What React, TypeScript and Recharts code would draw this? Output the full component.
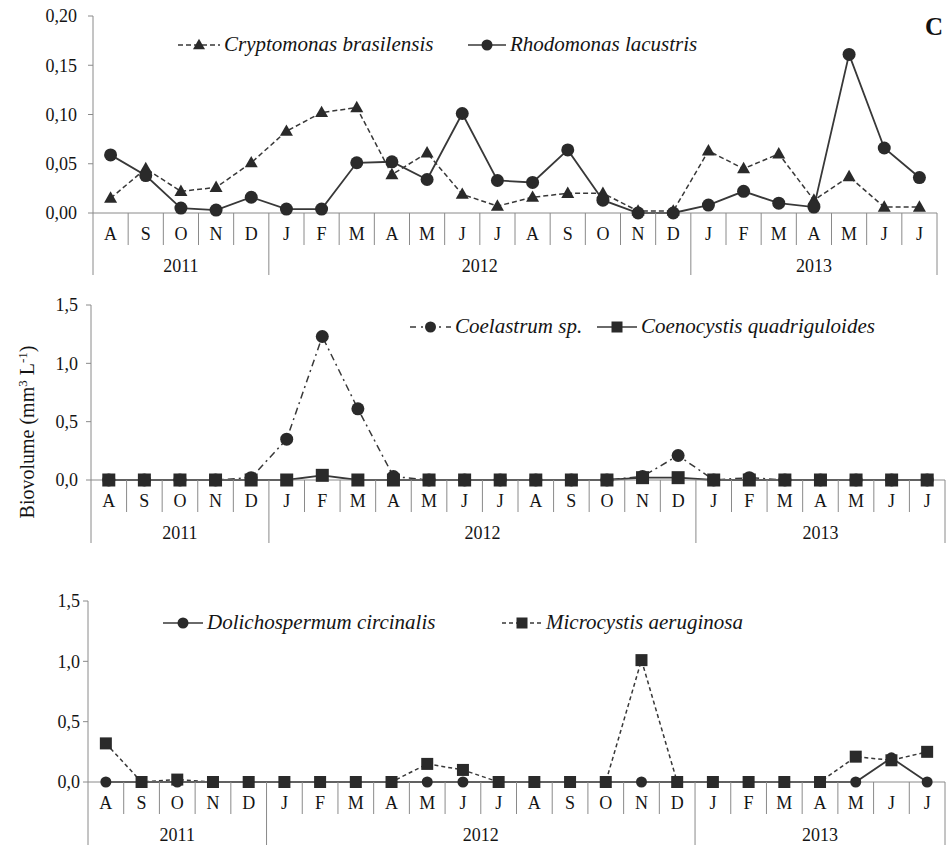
import React from "react";
import { LineChart, Line, XAxis, YAxis } from "recharts";

// sampling months, Aug 2011 - Jul 2013
const MONTHS = ["A", "S", "O", "N", "D", "J", "F", "M", "A", "M", "J", "J", "A", "S", "O", "N", "D", "J", "F", "M", "A", "M", "J", "J"];
const YEAR_LABELS = ["2011", "2012", "2013"];
const YEAR_SPANS = [5, 12, 7];

// biovolume (mm3 L-1)
const CRYPTOMONAS = [0.015, 0.045, 0.022, 0.026, 0.051, 0.083, 0.102, 0.107, 0.039, 0.061, 0.019, 0.007, 0.016, 0.020, 0.020, 0.002, 0.002, 0.063, 0.045, 0.060, 0.013, 0.037, 0.006, 0.006];
const RHODOMONAS = [0.059, 0.038, 0.005, 0.003, 0.016, 0.004, 0.004, 0.051, 0.052, 0.034, 0.101, 0.033, 0.031, 0.064, 0.013, 0.000, 0.000, 0.008, 0.022, 0.010, 0.006, 0.161, 0.066, 0.036];
const COELASTRUM = [0, 0, 0, 0, 0.02, 0.35, 1.23, 0.61, 0.03, 0, 0, 0, 0, 0, 0, 0.03, 0.21, 0, 0.02, 0, 0, 0, 0, 0];
const COENOCYSTIS = [0, 0, 0, 0, 0, 0, 0.04, 0, 0, 0, 0, 0, 0, 0, 0, 0.02, 0.02, 0, 0, 0, 0, 0, 0, 0];
const DOLICHOSPERMUM = [0, 0, 0, 0, 0, 0, 0, 0, 0, 0, 0, 0, 0, 0, 0, 0, 0, 0, 0, 0, 0, 0, 0.2, 0];
const MICROCYSTIS = [0.32, 0, 0.02, 0, 0, 0, 0, 0, 0, 0.15, 0.1, 0, 0, 0, 0, 1.01, 0, 0, 0, 0, 0, 0.21, 0.18, 0.25];

const TICKS_SMALL = [0, 0.05, 0.1, 0.15, 0.2];
const TICKS_LARGE = [0, 0.5, 1, 1.5];

const rows = MONTHS.map((month, idx) => ({
  idx,
  month,
  crypto: CRYPTOMONAS[idx],
  rhodo: RHODOMONAS[idx],
  coel: COELASTRUM[idx],
  coeno: COENOCYSTIS[idx],
  doli: DOLICHOSPERMUM[idx],
  micro: MICROCYSTIS[idx],
}));

const YEAR_STARTS = YEAR_SPANS.map((_, i) => YEAR_SPANS.slice(0, i).reduce((a, b) => a + b, 0));

const W = 952;
const FONT = '"Liberation Serif", "Times New Roman", serif';
const TEXT = "#141414";
const AXIS = "#8a8a8a";
const LINE = "#383838";
const INK = "#2a2a2a";

type Shape = "circle" | "square" | "triangle";

function Marker({ shape, cx, cy, size }: { shape: Shape; cx?: number; cy?: number; size: number }) {
  if (cx == null || cy == null) return <g />;
  if (shape === "circle") return <circle cx={cx} cy={cy} r={size / 2} fill={INK} />;
  if (shape === "square")
    return <rect x={cx - size / 2} y={cy - size / 2} width={size} height={size} fill={INK} />;
  const h = size * 0.88;
  return (
    <polygon
      points={`${cx},${cy - h * 0.6} ${cx - size / 2},${cy + h * 0.4} ${cx + size / 2},${cy + h * 0.4}`}
      fill={INK}
    />
  );
}

const dotOf = (shape: Shape, size: number) => (p: any) =>
  <Marker key={p.index} shape={shape} cx={p.cx} cy={p.cy} size={size} />;

// month letter in its box, separators between months and the year brackets below
function MonthTick(props: any) {
  const { x, y, payload, step, yearLen } = props;
  const i = payload.value as number;
  const left = x - step / 2;
  const yi = YEAR_STARTS.indexOf(i);
  const last = i === MONTHS.length - 1;
  return (
    <g>
      <line x1={left} x2={left} y1={y} y2={y + (yi >= 0 ? yearLen : 32)} stroke={AXIS} />
      {last && <line x1={x + step / 2} x2={x + step / 2} y1={y} y2={y + yearLen} stroke={AXIS} />}
      <text x={x} y={y + 27} textAnchor="middle" fontSize={18} fontFamily={FONT} fill={TEXT}>
        {MONTHS[i]}
      </text>
      {yi >= 0 && (
        <text
          x={left + (YEAR_SPANS[yi] * step) / 2}
          y={y + 59}
          textAnchor="middle"
          fontSize={18}
          fontFamily={FONT}
          fill={TEXT}
        >
          {YEAR_LABELS[yi]}
        </text>
      )}
    </g>
  );
}

type PanelProps = {
  top: number;
  height: number;
  marginTop: number;
  marginRight: number;
  yWidth: number;
  yMax: number;
  yTicks: number[];
  decimals: number;
  labelGap: number;
  axisHeight: number;
  yearLen: number;
  children: React.ReactNode;
};

function Panel(props: PanelProps) {
  const { top, height, marginTop, marginRight, yWidth, yMax, yTicks, decimals, labelGap, axisHeight, yearLen, children } = props;
  const step = (W - marginRight - yWidth) / MONTHS.length;
  return (
    <div style={{ position: "absolute", left: 0, top }}>
      <LineChart width={W} height={height} data={rows} margin={{ top: marginTop, right: marginRight, bottom: 0, left: 0 }}>
        <XAxis
          dataKey="idx"
          type="number"
          domain={[-0.5, MONTHS.length - 0.5]}
          ticks={rows.map((r) => r.idx)}
          interval={0}
          height={axisHeight}
          tickSize={0}
          tickMargin={0}
          tickLine={false}
          axisLine={{ stroke: AXIS }}
          tick={(p: any) => <MonthTick {...p} step={step} yearLen={yearLen} />}
        />
        <YAxis
          type="number"
          domain={[0, yMax]}
          ticks={yTicks}
          interval={0}
          width={yWidth}
          tickSize={5}
          tickMargin={labelGap}
          axisLine={{ stroke: AXIS }}
          tickLine={{ stroke: AXIS }}
          tick={{ fill: TEXT, fontSize: 18, fontFamily: FONT }}
          tickFormatter={(v: number) => v.toFixed(decimals).replace(".", ",")}
        />
        {children}
      </LineChart>
    </div>
  );
}

function LegendKey({ x, y, width, dash, shape, size, label }: { x: number; y: number; width: number; dash?: string; shape: Shape; size: number; label: string }) {
  return (
    <g>
      <line x1={x} x2={x + width} y1={y} y2={y} stroke={LINE} strokeWidth={1.5} strokeDasharray={dash} />
      <Marker shape={shape} cx={x + width / 2} cy={y} size={size} />
      <text x={x + width + 4} y={y + 6} fontSize={21} fontStyle="italic" fontFamily={FONT} fill={TEXT}>
        {label}
      </text>
    </g>
  );
}

export default function App() {
  return (
    <div style={{ position: "absolute", left: 0, top: 0, width: W, height: 845, background: "#fff", fontFamily: FONT }}>
      <Panel top={0} height={285} marginTop={16} marginRight={15} yWidth={93} yMax={0.2} yTicks={TICKS_SMALL} decimals={2} labelGap={11} axisHeight={72} yearLen={62}>
        <Line dataKey="crypto" isAnimationActive={false} stroke={LINE} strokeWidth={1.5} strokeDasharray="5 3" dot={dotOf("triangle", 13)} activeDot={false} />
        <Line dataKey="rhodo" isAnimationActive={false} stroke={LINE} strokeWidth={1.8} dot={dotOf("circle", 13)} activeDot={false} />
      </Panel>
      <Panel top={290} height={260} marginTop={15} marginRight={7} yWidth={91} yMax={1.5} yTicks={TICKS_LARGE} decimals={1} labelGap={8} axisHeight={70} yearLen={63}>
        <Line dataKey="coel" isAnimationActive={false} stroke={LINE} strokeWidth={1.5} strokeDasharray="7 4 2 4" dot={dotOf("circle", 13)} activeDot={false} />
        <Line dataKey="coeno" isAnimationActive={false} stroke={LINE} strokeWidth={1.8} dot={dotOf("square", 13)} activeDot={false} />
      </Panel>
      <Panel top={585} height={260} marginTop={16} marginRight={7} yWidth={88} yMax={1.5} yTicks={TICKS_LARGE} decimals={1} labelGap={3} axisHeight={63} yearLen={63}>
        <Line dataKey="doli" isAnimationActive={false} stroke={LINE} strokeWidth={1.8} dot={dotOf("circle", 11)} activeDot={false} />
        <Line dataKey="micro" isAnimationActive={false} stroke={LINE} strokeWidth={1.5} strokeDasharray="4 3" dot={dotOf("square", 12)} activeDot={false} />
      </Panel>
      <svg width={W} height={845} style={{ position: "absolute", left: 0, top: 0, pointerEvents: "none" }}>
        <LegendKey x={178} y={45} width={42} dash="5 3" shape="triangle" size={12} label="Cryptomonas brasilensis" />
        <LegendKey x={468} y={45} width={38} shape="circle" size={11} label="Rhodomonas lacustris" />
        <LegendKey x={410} y={327} width={41} dash="6 5 2 5" shape="circle" size={11} label="Coelastrum sp." />
        <LegendKey x={597} y={327} width={40} shape="square" size={11} label="Coenocystis quadriguloides" />
        <LegendKey x={163} y={623} width={40} shape="circle" size={11} label="Dolichospermum circinalis" />
        <LegendKey x={502} y={623} width={40} dash="4 3" shape="square" size={11} label="Microcystis aeruginosa" />
        <text x={934} y={35} textAnchor="middle" fontSize={25} fontWeight="bold" fontFamily={FONT} fill="#111">
          C
        </text>
        <text transform="translate(34,432) rotate(-90)" textAnchor="middle" fontSize={20} fontFamily={FONT} fill={TEXT}>
          Biovolume (mm
          <tspan dy={-7} fontSize={13}>3</tspan>
          <tspan dy={7}> L</tspan>
          <tspan dy={-7} fontSize={13}>-1</tspan>
          <tspan dy={7}>)</tspan>
        </text>
      </svg>
    </div>
  );
}
